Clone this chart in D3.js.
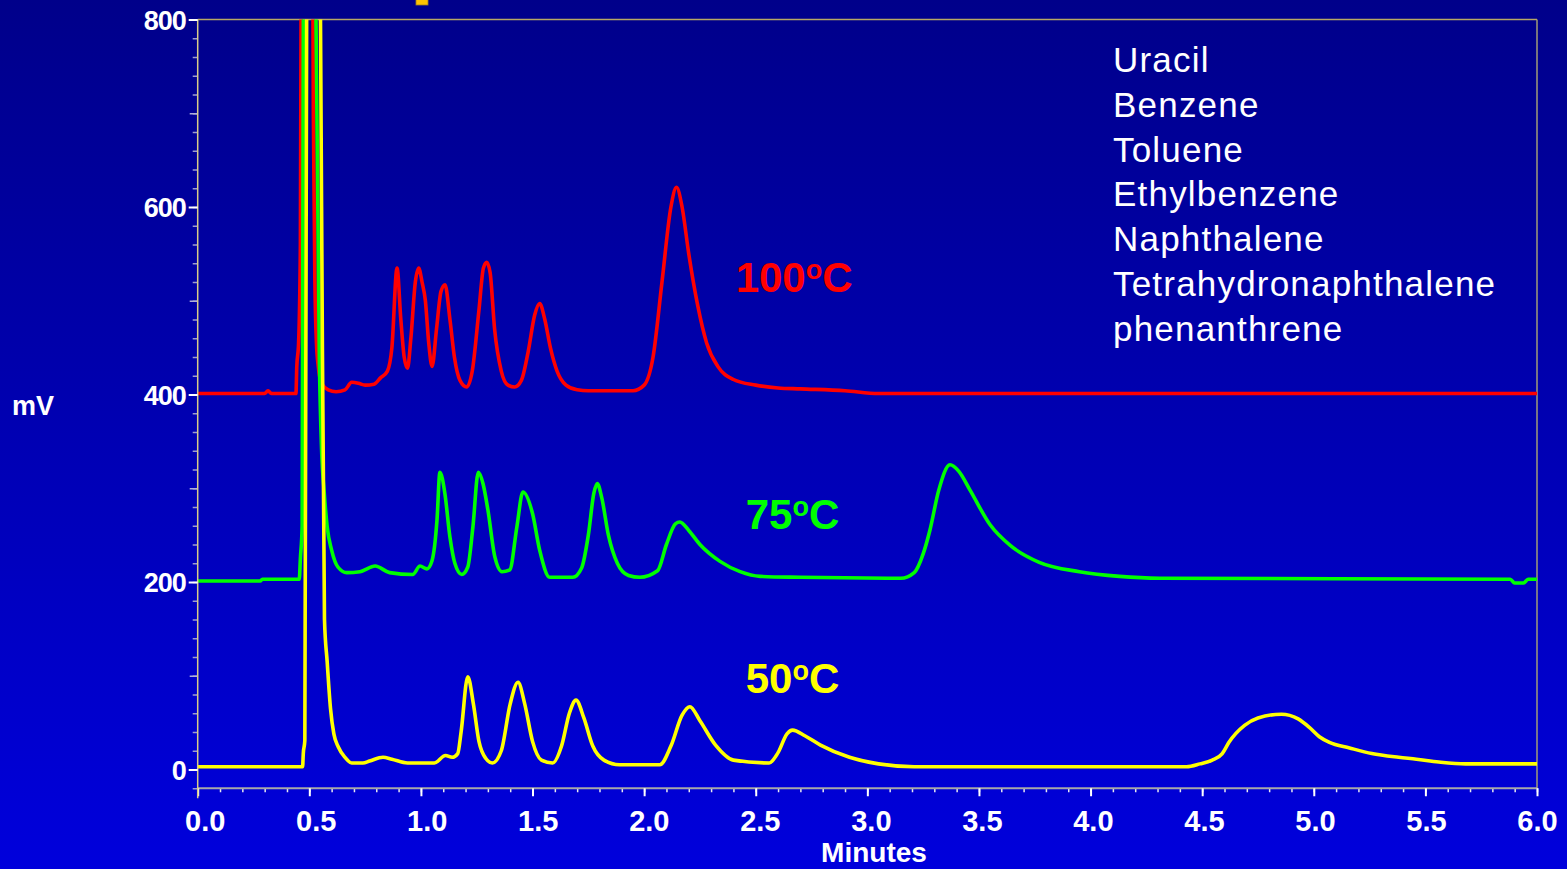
<!DOCTYPE html>
<html>
<head>
<meta charset="utf-8">
<script src="https://cdn.jsdelivr.net/npm/d3@7"></script>
<style>
  html, body { margin: 0; padding: 0; background: #00008a; overflow: hidden; }
  svg { display: block; }
</style>
</head>
<body>
<svg id="chart" width="1567" height="869"></svg>
<script>
// Chromatograms of the same test mix at three column temperatures (time in minutes, signal in mV)
const compounds = ["Uracil", "Benzene", "Toluene", "Ethylbenzene", "Naphthalene", "Tetrahydronaphthalene", "phenanthrene"];

const trace100 = [
  [0.00,401],[0.30,401],[0.315,404],[0.33,401],[0.44,401],[0.444,430],[0.452,455],[0.460,560],[0.468,1200],
  [0.49,1500],[0.51,1200],[0.518,700],[0.525,520],[0.532,455],[0.54,430],[0.555,412],[0.585,405],[0.62,403],
  [0.66,405],[0.69,413],[0.72,412],[0.75,410],[0.79,411],[0.82,418],[0.85,425],[0.87,450],[0.893,535],
  [0.91,480],[0.925,440],[0.94,428],[0.955,460],[0.975,520],[0.99,535],[1.005,520],[1.02,500],[1.035,455],
  [1.05,430],[1.07,470],[1.09,510],[1.108,517],[1.13,480],[1.15,440],[1.175,415],[1.205,408],[1.23,425],
  [1.26,490],[1.28,535],[1.295,541],[1.31,530],[1.33,470],[1.36,425],[1.39,410],[1.42,408],[1.45,415],
  [1.48,445],[1.51,485],[1.532,497],[1.555,480],[1.58,450],[1.61,425],[1.65,410],[1.70,405],[1.75,404],
  [1.95,404],[2.00,410],[2.04,440],[2.08,520],[2.12,600],[2.145,621],[2.17,600],[2.20,550],[2.24,495],
  [2.28,455],[2.33,430],[2.40,416],[2.50,410],[2.60,407],[2.70,406],[2.90,404],[3.05,401],[6.00,401]
];

const trace75 = [
  [0.00,201],[0.28,201],[0.29,203],[0.455,203],[0.46,225],[0.468,260],[0.475,1000],[0.50,1500],[0.52,1200],
  [0.53,800],[0.545,437],[0.555,341],[0.567,295],[0.58,259],[0.60,234],[0.628,216],[0.668,210],[0.727,211],
  [0.795,217],[0.86,210],[0.963,208],[0.996,217],[1.027,214],[1.05,223],[1.072,266],[1.085,317],[1.107,295],
  [1.13,248],[1.152,220],[1.183,208],[1.21,216],[1.233,259],[1.257,317],[1.278,305],[1.30,277],[1.331,227],
  [1.363,211],[1.398,213],[1.43,259],[1.457,296],[1.50,273],[1.532,234],[1.577,205],[1.68,205],[1.72,215],
  [1.75,250],[1.775,295],[1.79,305],[1.81,290],[1.84,250],[1.88,220],[1.93,207],[1.98,205],[2.06,212],
  [2.10,240],[2.14,262],[2.16,264],[2.20,255],[2.25,240],[2.34,222],[2.43,211],[2.52,206],[2.70,205],
  [3.15,204],[3.21,210],[3.25,230],[3.28,255],[3.32,298],[3.37,325],[3.41,318],[3.46,298],[3.55,261],
  [3.64,239],[3.77,221],[3.95,211],[4.13,206],[4.31,204],[5.88,203],[5.90,199],[5.94,199],[5.96,203],[6.00,203]
];

const trace50 = [
  [0.00,3],[0.47,3],[0.473,17],[0.48,31],[0.49,1000],[0.52,1500],[0.545,1000],[0.555,600],[0.568,160],
  [0.58,115],[0.595,65],[0.61,38],[0.63,24],[0.66,13],[0.69,7],[0.74,7],[0.77,9],[0.83,13],[0.87,11],
  [0.94,7],[1.06,7],[1.11,15],[1.14,13],[1.165,17],[1.18,40],[1.21,99],[1.235,70],[1.26,30],[1.29,12],
  [1.32,7],[1.36,20],[1.40,70],[1.435,93],[1.465,70],[1.50,30],[1.54,10],[1.59,7],[1.63,25],[1.665,60],
  [1.695,74],[1.73,55],[1.77,25],[1.82,10],[1.89,5],[2.07,5],[2.12,25],[2.17,58],[2.205,67],[2.25,52],
  [2.32,26],[2.40,10],[2.56,7],[2.60,18],[2.64,38],[2.665,42],[2.72,36],[2.79,26],[2.92,13],[3.05,6],
  [3.21,3],[4.43,3],[4.49,6],[4.545,10],[4.59,17],[4.62,29],[4.69,47],[4.75,55],[4.855,59],[4.93,54],
  [4.98,45],[5.025,35],[5.07,29],[5.16,23],[5.26,17],[5.38,13],[5.46,11],[5.56,8],[5.68,6],[6.00,6]
];

const series = [
  { label: "100", data: trace100, color: "#ff0000", labelAt: [2.41, 509] },
  { label: "75",  data: trace75,  color: "#00ff00", labelAt: [2.455, 257] },
  { label: "50",  data: trace50,  color: "#ffff00", labelAt: [2.455, 82] }
];

const xMajor = d3.range(0, 6.0001, 0.5);
const xMinor = d3.range(0, 6.0001, 0.1);
const yMajor = [0, 200, 400, 600, 800];
const yMid = [100, 300, 500, 700];
const yMinor = d3.range(-20, 800.001, 20);

const svg = d3.select("#chart");
const W = 1567, H = 869;
const plot = { left: 197.7, right: 1537, top: 19.5, bottom: 788.25 };
const FONT = "Liberation Sans, Arial, sans-serif";

// Slide-style background: dark navy at the top fading to bright blue
const defs = svg.append("defs");
const grad = defs.append("linearGradient").attr("id", "bg").attr("x1", 0).attr("y1", 0).attr("x2", 0).attr("y2", 1);
grad.append("stop").attr("offset", "0%").attr("stop-color", "#00008a");
grad.append("stop").attr("offset", "100%").attr("stop-color", "#0000dc");
svg.append("rect").attr("width", W).attr("height", H).attr("fill", "url(#bg)");

defs.append("clipPath").attr("id", "plotClip")
  .append("rect")
  .attr("x", plot.left).attr("y", plot.top)
  .attr("width", plot.right - plot.left).attr("height", plot.bottom - plot.top);

const x = d3.scaleLinear().domain([0, 6]).range([plot.left, plot.right]);
const y = d3.scaleLinear().domain([-20, 800]).range([plot.bottom, plot.top]);

// Fragment of the slide title sitting above the chart
svg.append("rect").attr("x", 416).attr("y", -2).attr("width", 12).attr("height", 7)
  .attr("fill", "#ffc400").attr("stroke", "#a08020").attr("stroke-width", 0.8);

// Frame: top and left lines olive, right line grey
svg.append("line").attr("x1", plot.left).attr("x2", plot.right).attr("y1", plot.top).attr("y2", plot.top)
  .attr("stroke", "#b8a864").attr("stroke-width", 1.5);
svg.append("line").attr("x1", plot.right).attr("x2", plot.right).attr("y1", plot.top).attr("y2", plot.bottom)
  .attr("stroke", "#a09c78").attr("stroke-width", 1.5);

// Traces
const line = d3.line().x(d => x(d[0])).y(d => y(d[1])).curve(d3.curveMonotoneX);
const traces = svg.append("g").attr("clip-path", "url(#plotClip)");
series.forEach(s => {
  traces.append("path")
    .datum(s.data)
    .attr("fill", "none")
    .attr("stroke", s.color)
    .attr("stroke-width", 3.6)
    .attr("stroke-linejoin", "round")
    .attr("d", line);
});

// Bottom axis
const xAxisG = svg.append("g").attr("transform", `translate(0,${plot.bottom})`);
xAxisG.call(d3.axisBottom(x).tickValues(xMinor).tickSize(4).tickFormat(""));
xAxisG.call(g => g.select(".domain").remove());
xAxisG.selectAll(".tick line").attr("stroke", "#e8e8f0").attr("stroke-width", 1.5);
const xMajG = svg.append("g").attr("transform", `translate(0,${plot.bottom})`);
xMajG.call(d3.axisBottom(x).tickValues(xMajor).tickSize(8).tickPadding(14).tickFormat(d3.format(".1f")));
xMajG.select(".domain").attr("stroke", "#a8a8a8").attr("stroke-width", 2).attr("d", `M${plot.left},0H${plot.right}`);
xMajG.selectAll(".tick line").attr("stroke", "#ffffff").attr("stroke-width", 2);
xMajG.selectAll(".tick text")
  .attr("fill", "#ffffff").attr("font-family", FONT)
  .attr("font-weight", "bold").attr("font-size", 29).attr("dy", "0.71em")
  .attr("dx", d => 7 * (1 - d / 6));

// Left axis
const yMinG = svg.append("g").attr("transform", `translate(${plot.left},0)`);
yMinG.call(d3.axisLeft(y).tickValues(yMinor).tickSize(5).tickFormat(""));
yMinG.select(".domain").remove();
yMinG.selectAll(".tick line").attr("stroke", "#9c9cd0").attr("stroke-width", 1.5);
const yMidG = svg.append("g").attr("transform", `translate(${plot.left},0)`);
yMidG.call(d3.axisLeft(y).tickValues(yMid).tickSize(8).tickFormat(""));
yMidG.select(".domain").remove();
yMidG.selectAll(".tick line").attr("stroke", "#b0b0d8").attr("stroke-width", 1.5);
const yMajG = svg.append("g").attr("transform", `translate(${plot.left},0)`);
yMajG.call(d3.axisLeft(y).tickValues(yMajor).tickSize(9).tickPadding(3).tickFormat(d3.format("d")));
yMajG.select(".domain").attr("stroke", "#d8cc88").attr("stroke-width", 1.5)
  .attr("d", `M0,${plot.top}V${plot.bottom + 10}`);
yMajG.selectAll(".tick line").attr("stroke", "#ffffff").attr("stroke-width", 2);
yMajG.selectAll(".tick text")
  .attr("fill", "#ffffff").attr("font-family", FONT)
  .attr("font-weight", "bold").attr("font-size", 27).attr("letter-spacing", -1).attr("dy", "0.36em");

// Axis titles
svg.append("text").attr("x", 874).attr("y", 862).attr("text-anchor", "middle")
  .attr("fill", "#ffffff").attr("font-family", FONT)
  .attr("font-weight", "bold").attr("font-size", 28).text("Minutes");
svg.append("text").attr("x", 12).attr("y", 415)
  .attr("fill", "#ffffff").attr("font-family", FONT)
  .attr("font-weight", "bold").attr("font-size", 27).text("mV");

// Temperature labels next to each trace
series.forEach(s => {
  const t = svg.append("text")
    .attr("x", x(s.labelAt[0])).attr("y", y(s.labelAt[1]))
    .attr("fill", s.color).attr("font-family", FONT)
    .attr("font-weight", "bold").attr("font-size", 42);
  t.append("tspan").text(s.label);
  t.append("tspan").attr("font-size", 27).attr("dy", -13).text("o");
  t.append("tspan").attr("dy", 13).text("C");
});

// Compound list, in elution order
svg.append("g").selectAll("text").data(compounds).join("text")
  .attr("x", 1113).attr("y", (d, i) => 72 + i * 44.8)
  .attr("fill", "#ffffff").attr("font-family", FONT)
  .attr("font-size", 35).attr("letter-spacing", 1.2).text(d => d);
</script>
</body>
</html>
